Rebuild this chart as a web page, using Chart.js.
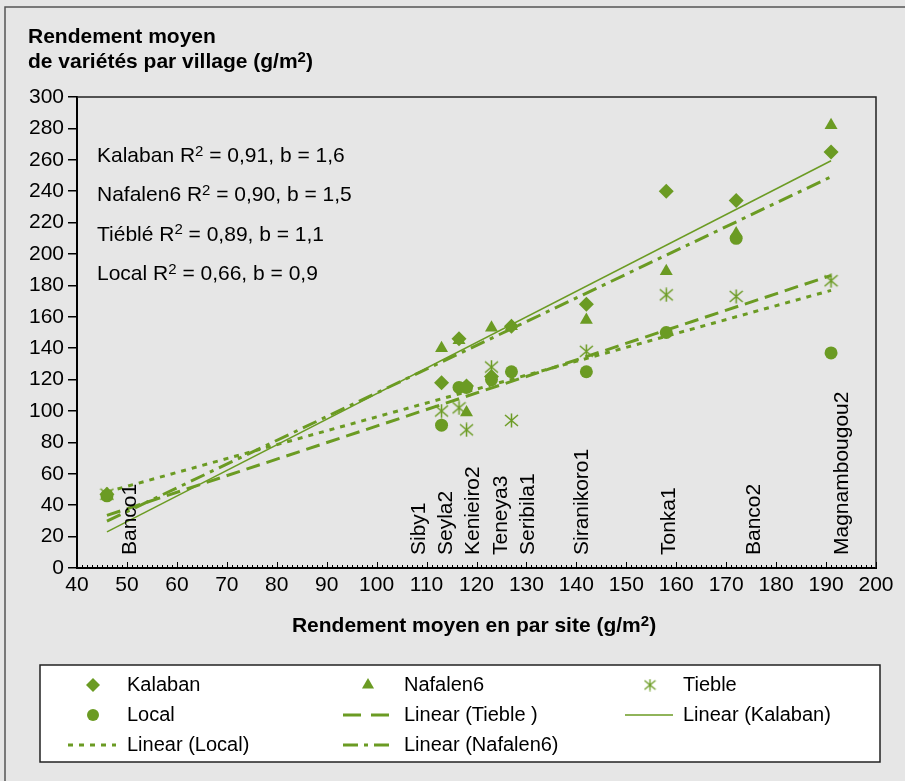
<!DOCTYPE html>
<html>
<head>
<meta charset="utf-8">
<script src="https://cdn.jsdelivr.net/npm/chart.js@4.4.1/dist/chart.umd.min.js"></script>
<style>
  html, body { margin: 0; padding: 0; background: #e6e6e6; }
  #wrap { position: relative; width: 905px; height: 781px; }
</style>
</head>
<body>
<div id="wrap"><canvas id="myChart" width="905" height="781"></canvas></div>
<script>
// villages et rendement moyen du site (axe x)
const villages = ['Banco1', 'Siby1', 'Seyla2', 'Kenieiro2', 'Teneya3', 'Seribila1', 'Siranikoro1', 'Tonka1', 'Banco2', 'Magnambougou2'];
const siteMean = [46, 113, 116.5, 118, 123, 127, 142, 158, 172, 191];
// ou poser le nom du village sur l'axe x
const villageLabelAt = [50.6, 108.6, 114, 119.4, 125, 130.4, 141.2, 158.6, 175.6, 193.2];

// rendement par variete
const kalaban = [47, 118, 146, 116, 122, 154, 168, 240, 234, 265];
const nafalen6 = [46, 140, 145, 99, 153, 154, 158, 189, 213, 282];
const tieble = [47, 100, 102, 88, 128, 94, 138, 174, 173, 183];
const local = [46, 91, 115, 115, 120, 125, 125, 150, 210, 137];

// textes des regressions
const fitNames = ['Kalaban', 'Nafalen6', 'Tiéblé', 'Local'];
const fitR2 = ['0,91', '0,90', '0,89', '0,66'];
const fitB = ['1,6', '1,5', '1,1', '0,9'];

const X_MIN = 40, X_MAX = 200, X_STEP = 10;
const Y_MIN = 0, Y_MAX = 300, Y_STEP = 20;

const GREEN = '#6b9b23';
const FONT = "'Liberation Sans', Arial, Helvetica, sans-serif";

// asterisque pour Tieble
const makeAsterisk = (size, lw) => {
  const c = document.createElement('canvas');
  c.width = size;
  c.height = size;
  const g = c.getContext('2d');
  g.strokeStyle = GREEN;
  g.lineWidth = lw;
  const m = size / 2;
  g.beginPath();
  g.moveTo(m, 0.5); g.lineTo(m, size - 0.5);
  g.moveTo(1, 2); g.lineTo(size - 1, size - 2);
  g.moveTo(size - 1, 2); g.lineTo(1, size - 2);
  g.stroke();
  return c;
};
const asterisk = makeAsterisk(15, 1.5);
const asteriskSmall = makeAsterisk(13, 1.3);

const linFit = (xs, ys) => {
  const n = xs.length;
  const mx = xs.reduce((a, b) => a + b, 0) / n;
  const my = ys.reduce((a, b) => a + b, 0) / n;
  let sxy = 0, sxx = 0;
  xs.forEach((x, i) => {
    sxy += (x - mx) * (ys[i] - my);
    sxx += (x - mx) * (x - mx);
  });
  const m = sxy / sxx;
  return { m, b: my - m * mx };
};

const trend = (ys) => {
  const f = linFit(siteMean, ys);
  const lo = Math.min(...siteMean);
  const hi = Math.max(...siteMean);
  return [{ x: lo, y: f.m * lo + f.b }, { x: hi, y: f.m * hi + f.b }];
};

const points = (ys) => siteMean.map((x, i) => ({ x, y: ys[i] }));

// texte avec exposant: 'm^2' -> m + petit 2
const splitSup = (str) => {
  const parts = [];
  str.split('^').forEach((s, i) => {
    if (i === 0) { parts.push({ t: s }); return; }
    parts.push({ t: s[0], sup: true });
    parts.push({ t: s.slice(1) });
  });
  return parts;
};
const richWidth = (ctx, str, size, weight) => splitSup(str).reduce((w, p) => {
  ctx.font = `${weight} ${p.sup ? Math.round(size * 0.72) : size}px ${FONT}`;
  return w + ctx.measureText(p.t).width;
}, 0);
const drawRich = (ctx, str, x, y, size, weight) => {
  splitSup(str).forEach((p) => {
    const s = p.sup ? Math.round(size * 0.72) : size;
    ctx.font = `${weight} ${s}px ${FONT}`;
    ctx.fillText(p.t, x, p.sup ? y - size * 0.3 : y);
    x += ctx.measureText(p.t).width;
  });
};

const decorPlugin = {
  id: 'decor',
  afterDraw(chart) {
    const ctx = chart.ctx;
    const area = chart.chartArea;
    const xs = chart.scales.x;
    ctx.save();

    // cadre exterieur
    ctx.strokeStyle = '#555';
    ctx.lineWidth = 1.5;
    ctx.beginPath();
    ctx.moveTo(5, 781); ctx.lineTo(5, 7); ctx.lineTo(905, 7);
    ctx.stroke();

    // bord haut et droit du graphe
    ctx.strokeStyle = '#222';
    ctx.lineWidth = 1.5;
    ctx.beginPath();
    ctx.moveTo(area.left, area.top); ctx.lineTo(area.right, area.top); ctx.lineTo(area.right, area.bottom);
    ctx.stroke();

    // graduations x (vers l'interieur)
    ctx.strokeStyle = '#000';
    ctx.lineWidth = 1;
    ctx.beginPath();
    for (let v = X_MIN; v <= X_MAX; v++) {
      const px = Math.round(xs.getPixelForValue(v)) + 0.5;
      const len = v % X_STEP === 0 ? 6 : 3;
      ctx.moveTo(px, area.bottom);
      ctx.lineTo(px, area.bottom - len);
    }
    ctx.stroke();

    // noms des villages
    ctx.fillStyle = '#000';
    ctx.font = `21px ${FONT}`;
    ctx.textAlign = 'left';
    ctx.textBaseline = 'middle';
    villages.forEach((name, i) => {
      ctx.save();
      ctx.translate(xs.getPixelForValue(villageLabelAt[i]), area.bottom - 13);
      ctx.rotate(-Math.PI / 2);
      ctx.fillText(name, 0, 0);
      ctx.restore();
    });

    // textes R2
    ctx.textBaseline = 'alphabetic';
    fitNames.forEach((n, i) => {
      drawRich(ctx, `${n} R^2 = ${fitR2[i]}, b = ${fitB[i]}`, 97, 162 + i * 39.3, 21, 'normal');
    });

    // titres des axes
    drawRich(ctx, 'Rendement moyen', 28, 43, 21, 'bold');
    drawRich(ctx, 'de variétés par village (g/m^2)', 28, 68, 21, 'bold');
    const xt = 'Rendement moyen en par site (g/m^2)';
    const w = richWidth(ctx, xt, 21, 'bold');
    drawRich(ctx, xt, 474 - w / 2, 632, 21, 'bold');

    // legende
    ctx.fillStyle = '#fff';
    ctx.fillRect(40, 665, 840, 97);
    ctx.strokeStyle = '#222';
    ctx.lineWidth = 1.5;
    ctx.strokeRect(40, 665, 840, 97);

    const colMark = [93, 368, 650];
    const colText = [127, 404, 683];
    const rowY = [685, 715, 745];
    chart.data.datasets.forEach((ds, i) => {
      const cx = colMark[i % 3];
      const cy = rowY[Math.floor(i / 3)];
      ctx.fillStyle = GREEN;
      ctx.strokeStyle = GREEN;
      if (ds.showLine) {
        ctx.lineWidth = ds.borderWidth;
        ctx.setLineDash(ds.legendDash || ds.borderDash || []);
        ctx.beginPath();
        ctx.moveTo(cx - 25, cy);
        ctx.lineTo(cx + 23, cy);
        ctx.stroke();
        ctx.setLineDash([]);
      } else {
        const style = ds.pointStyle === asterisk ? asteriskSmall : ds.pointStyle;
        Chart.helpers.drawPoint(ctx, { pointStyle: style, radius: ds.pointRadius - 0.5, rotation: 0, borderWidth: 0 }, cx, cy);
      }
      ctx.fillStyle = '#000';
      ctx.font = `20px ${FONT}`;
      ctx.textBaseline = 'middle';
      ctx.fillText(ds.label, colText[i % 3], cy);
    });

    ctx.restore();
  }
};

const ctx = document.getElementById('myChart');

const data = {
  datasets: [
    {
      label: 'Kalaban',
      data: points(kalaban),
      pointStyle: 'rectRot',
      pointRadius: 7.5,
      backgroundColor: GREEN,
      borderColor: GREEN,
      borderWidth: 0,
    },
    {
      label: 'Nafalen6',
      data: points(nafalen6),
      pointStyle: 'triangle',
      pointRadius: 7.5,
      backgroundColor: GREEN,
      borderColor: GREEN,
      borderWidth: 0,
    },
    {
      label: 'Tieble',
      data: points(tieble),
      pointStyle: asterisk,
      pointRadius: 7.5,
      backgroundColor: GREEN,
      borderColor: GREEN,
    },
    {
      label: 'Local',
      data: points(local),
      pointStyle: 'circle',
      pointRadius: 6.5,
      backgroundColor: GREEN,
      borderColor: GREEN,
      borderWidth: 0,
    },
    {
      label: 'Linear (Tieble )',
      data: trend(tieble),
      showLine: true,
      borderColor: GREEN,
      borderWidth: 3,
      borderDash: [14, 7],
      legendDash: [18, 10],
      pointRadius: 0,
    },
    {
      label: 'Linear (Kalaban)',
      data: trend(kalaban),
      showLine: true,
      borderColor: GREEN,
      borderWidth: 1.5,
      pointRadius: 0,
    },
    {
      label: 'Linear (Local)',
      data: trend(local),
      showLine: true,
      borderColor: GREEN,
      borderWidth: 3,
      borderDash: [5, 6],
      pointRadius: 0,
    },
    {
      label: 'Linear (Nafalen6)',
      data: trend(nafalen6),
      showLine: true,
      borderColor: GREEN,
      borderWidth: 3,
      borderDash: [15, 6, 4, 6],
      pointRadius: 0,
    },
  ]
};

const config = {
  type: 'scatter',
  data: data,
  options: {
    responsive: false,
    animation: false,
    layout: {
      padding: { left: 0, top: 97, right: 29, bottom: 173 },
    },
    plugins: {
      legend: { display: false },
      tooltip: { enabled: false },
    },
    scales: {
      x: {
        type: 'linear',
        min: X_MIN,
        max: X_MAX,
        afterFit: (s) => { s.height = 40; },
        ticks: {
          stepSize: X_STEP,
          autoSkip: false,
          maxRotation: 0,
          padding: 5,
          color: '#000',
          font: { family: FONT, size: 21 },
        },
        grid: { drawOnChartArea: false, drawTicks: false },
        border: { color: '#000', width: 2 },
      },
      y: {
        min: Y_MIN,
        max: Y_MAX,
        afterFit: (s) => { s.width = 77; },
        ticks: {
          stepSize: Y_STEP,
          autoSkip: false,
          padding: 4,
          color: '#000',
          font: { family: FONT, size: 21 },
        },
        grid: { drawOnChartArea: false, drawTicks: true, tickLength: 9, color: '#000', lineWidth: 1.5 },
        border: { color: '#000', width: 2 },
      },
    },
  },
  plugins: [decorPlugin],
};

var myChart = new Chart(ctx, config);
</script>
</body>
</html>
